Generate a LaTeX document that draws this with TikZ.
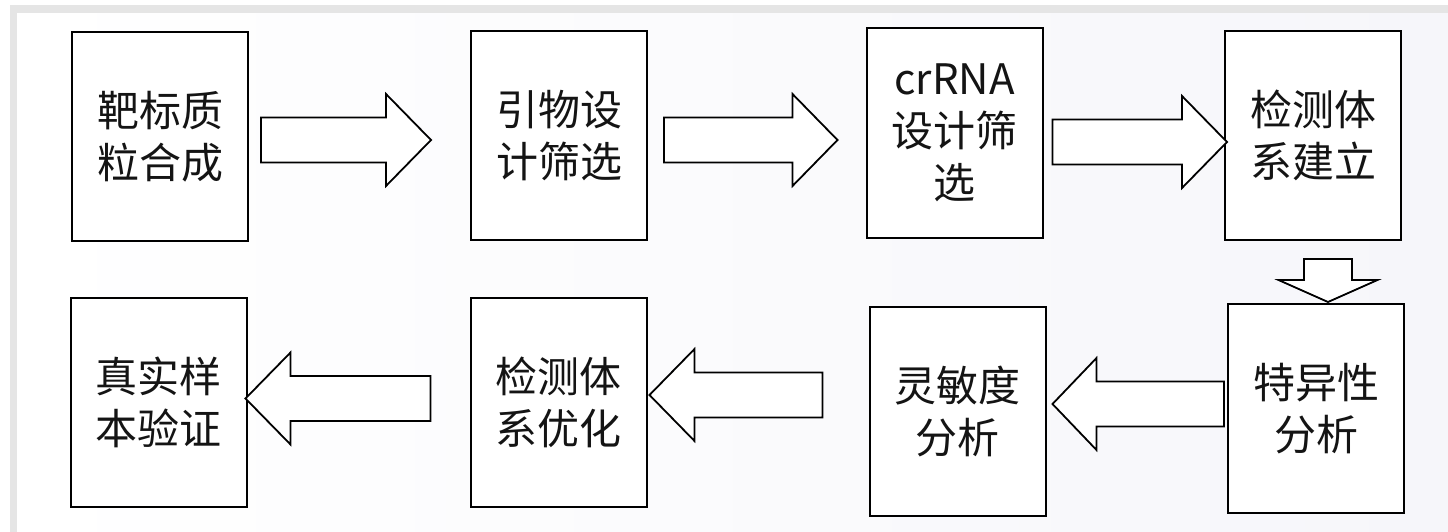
\documentclass[tikz,border=0pt]{standalone}
\usepackage{fontspec}
\newfontfamily\cjk{Noto Sans CJK SC}
\usetikzlibrary{calc}
\pgfdeclarelayer{bg}
\pgfsetlayers{bg,main}
\newcommand\hblock[3]{%
  \draw[barrow] ($(#1)+(0,-22.5)$) -- ($(#2)+(#3,-22.5)$) -- ($(#2)+(#3,-46)$) -- (#2)
    -- ($(#2)+(#3,46)$) -- ($(#2)+(#3,22.5)$) -- ($(#1)+(0,22.5)$) -- cycle;}
\begin{document}
\begin{tikzpicture}[x=1pt,y=-1pt,
  box/.style={draw=black, line width=2pt, fill=white, minimum width=176, minimum height=209,
    inner sep=0pt, align=center, font=\cjk\fontsize{42}{52}\selectfont, text=black!92},
  barrow/.style={draw=black, line width=1.8pt, fill=white, line join=miter}]
\useasboundingbox (0,0) rectangle (1448,532);
\fill[white] (0,0) rectangle (1448,532);
\fill[left color=white, right color={rgb,255:red,246;green,246;blue,250}] (17,13) rectangle (1448,532);
\fill[black!10] (10,5) rectangle (1448,13);
\fill[black!10] (10,5) rectangle (17,532);

\node[box] (b1) at (160,136.5) {靶标质\\粒合成};
\node[box] (b2) at (559,135.5) {引物设\\计筛选};
\node[box] (b3) at (954.5,133) {crRNA\\设计筛\\选};
\node[box] (b4) at (1313,135.5) {检测体\\系建立};
\node[box] (b5) at (1316,408.5) {特异性\\分析};
\node[box] (b6) at (957.5,411) {灵敏度\\分析};
\node[box] (b7) at (558.5,402.5) {检测体\\系优化};
\node[box] (b8) at (158.5,402.5) {真实样\\本验证};

\begin{pgfonlayer}{bg}
\foreach \n in {b1,b2,b3,b4,b5,b6,b7,b8}{
  \foreach \i in {1,...,6}{
    \fill[black, opacity=0.035, rounded corners=\i] ($(\n.north west)+(-\i-1,-\i+1)$) rectangle ($(\n.south east)+(\i-1,\i+1)$);
  }
}
\end{pgfonlayer}

% connectors
\coordinate (a1s) at ($(b1.east)+(12,3.5)$);
\coordinate (a1t) at ($(b2.west)+(-39,4.5)$);
\hblock{a1s}{a1t}{-45}
\coordinate (a2s) at ($(b2.east)+(16,4.5)$);
\coordinate (a2t) at ($(b3.west)+(-28,7)$);
\hblock{a2s}{a2t}{-45}
\coordinate (a3s) at ($(b3.east)+(9,9)$);
\coordinate (a3t) at ($(b4.west)+(3,6.5)$);
\hblock{a3s}{a3t}{-45}
\coordinate (ds) at ($(b4.south)+(15,18)$);
\coordinate (dt) at ($(b5.north)+(12,-1)$);
\draw[barrow] ($(ds)+(-24,0)$) -- ($(dt)+(-24,-22)$) -- ($(dt)+(-49.5,-22)$) -- (dt)
  -- ($(dt)+(49.5,-22)$) -- ($(dt)+(24,-22)$) -- ($(ds)+(24,0)$) -- cycle;
\coordinate (a5s) at ($(b5.west)+(-3,-4.5)$);
\coordinate (a5t) at ($(b6.east)+(6,-7)$);
\hblock{a5s}{a5t}{44}
\coordinate (a6s) at ($(b6.west)+(-46,-16)$);
\coordinate (a6t) at ($(b7.east)+(2,-7.5)$);
\hblock{a6s}{a6t}{45}
\coordinate (a7s) at ($(b7.west)+(-39,-4)$);
\coordinate (a7t) at ($(b8.east)+(-2,-4)$);
\hblock{a7s}{a7t}{45}
\end{tikzpicture}
\end{document}
